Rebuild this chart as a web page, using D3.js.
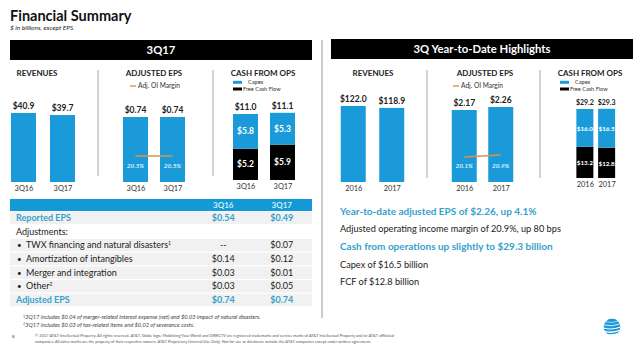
<!DOCTYPE html>
<html>
<head>
<meta charset="utf-8">
<script src="https://cdnjs.cloudflare.com/ajax/libs/d3/7.8.5/d3.min.js"></script>
<style>
  body { margin: 0; background: #fff; }
  svg { display: block; font-family: Lato, "Open Sans", sans-serif; }
</style>
</head>
<body>
<script>
// quarter figures
var qLabels  = ["3Q16", "3Q17"];
var qRevenue = [40.9, 39.7];
var qEps     = [0.74, 0.74];
var qMargin  = [20.5, 20.5];
var qCapex   = [5.8, 5.3];
var qFcf     = [5.2, 5.9];
var qCash    = [11.0, 11.1];

// year-to-date figures
var ytdLabels  = ["2016", "2017"];
var ytdRevenue = [122.0, 118.9];
var ytdEps     = [2.17, 2.26];
var ytdMargin  = [20.1, 20.9];
var ytdCapex   = [16.0, 16.5];
var ytdFcf     = [13.2, 12.8];
var ytdCash    = [29.2, 29.3];

// EPS reconciliation table
var tblCols   = ["3Q16", "3Q17"];
var tblRows   = ["Reported EPS", "Adjustments:", "TWX financing and natural disasters", "Amortization of intangibles", "Merger and integration", "Other", "Adjusted EPS"];
var tblSup    = ["", "", "1", "", "", "2", ""];
var tbl3Q16   = ["$0.54", "", "--", "$0.14", "$0.03", "$0.03", "$0.74"];
var tbl3Q17   = ["$0.49", "", "$0.07", "$0.12", "$0.01", "$0.05", "$0.74"];

// highlight bullets
var hlText = ["Year-to-date adjusted EPS of $2.26, up 4.1%",
              "Adjusted operating income margin of 20.9%, up 80 bps",
              "Cash from operations up slightly to $29.3 billion",
              "Capex of $16.5 billion",
              "FCF of $12.8 billion"];
var hlBold = [true, false, true, false, false];

var BLUE = "#1a9ad8", TXTBLUE = "#36a0cc", ORANGE = "#d9944c", GREY = "#a8a8a8";

var W = 640, H = 347;
var svg = d3.select("body").append("svg").attr("width", W).attr("height", H);

// ---- title ----
svg.append("text").attr("x", 10).attr("y", 21)
    .style("font-size", "14.5px").style("font-weight", "bold").style("fill", "#111")
    .text("Financial Summary");
svg.append("text").attr("x", 10).attr("y", 30)
    .style("font-size", "6.5px").style("font-style", "italic").style("fill", "#222")
    .text("$ in billions, except EPS");

// section headers
function header(x0, x1, y0, txt) {
    svg.append("rect").attr("x", x0).attr("y", y0).attr("width", x1 - x0).attr("height", 20).attr("fill", "#000");
    svg.append("text").attr("x", (x0 + x1) / 2).attr("y", y0 + 14)
        .attr("text-anchor", "middle").style("font-size", "11.3px").style("font-weight", "bold").style("fill", "#fff")
        .text(txt);
}
header(10, 312, 40, "3Q17");
header(331, 633, 39, "3Q Year-to-Date Highlights");

// middle separator
svg.append("line").attr("x1", 322).attr("x2", 322).attr("y1", 40).attr("y2", 318)
    .attr("stroke", GREY).attr("stroke-width", 1.2);

// panel dividers
[[98, 70, 176], [213, 70, 176], [427, 70, 178], [540, 70, 178]].forEach(function(d) {
    svg.append("line").attr("x1", d[0]).attr("x2", d[0]).attr("y1", d[1]).attr("y2", d[2])
        .attr("stroke", GREY).attr("stroke-width", 1);
});

// ---- mini bar charts ----
function panelTitle(cx, txt) {
    svg.append("text").attr("x", cx).attr("y", 76).attr("text-anchor", "middle")
        .style("font-size", "8px").style("font-weight", "bold").style("fill", "#222").text(txt);
}

function xAxis(x, bottom) {
    var g = svg.append("g").attr("transform", "translate(0," + (bottom + 4) + ")")
        .call(d3.axisBottom(x).tickSize(0).tickPadding(0));
    g.select(".domain").remove();
    g.selectAll("text").style("font-size", "7.4px").style("fill", "#333").style("font-family", "Lato, sans-serif");
}

function simpleBars(p) {
    var x = d3.scalePoint().domain(p.labels).range(p.xr).padding(0.5);
    var y = d3.scaleLinear().domain([0, p.max]).range([p.bottom, p.bottom - p.h]);
    panelTitle(p.tx, p.title);
    svg.selectAll(null).data(p.values).enter().append("rect")
        .attr("x", function(d, i) { return x(p.labels[i]) - p.bw / 2; })
        .attr("y", function(d) { return y(d); })
        .attr("width", p.bw)
        .attr("height", function(d) { return p.bottom - y(d); })
        .attr("fill", BLUE);
    svg.selectAll(null).data(p.values).enter().append("text")
        .attr("x", function(d, i) { return x(p.labels[i]); })
        .attr("y", function(d) { return y(d) - 4; })
        .attr("text-anchor", "middle")
        .style("font-size", "8.5px").style("font-weight", "bold").style("fill", "#222")
        .text(function(d) { return p.fmt(d); });
    xAxis(x, p.bottom);
    return x;
}

function marginLine(x, labels, margins, legendX) {
    var my = d3.scaleLinear().domain([18, 23]).range([162.25, 149.75]);
    var line = d3.line().x(function(d, i) { return x(labels[i]); }).y(function(d) { return my(d); });
    svg.append("path").attr("d", line(margins)).attr("fill", "none")
        .attr("stroke", ORANGE).attr("stroke-width", 1.6);
    svg.selectAll(null).data(margins).enter().append("text")
        .attr("x", function(d, i) { return x(labels[i]); })
        .attr("y", 168)
        .attr("text-anchor", "middle")
        .style("font-size", "6.3px").style("font-weight", "bold").style("font-style", "italic").style("fill", "#d6f1ff")
        .text(function(d) { return d.toFixed(1) + "%"; });
    // legend
    svg.append("line").attr("x1", legendX).attr("x2", legendX + 6).attr("y1", 86).attr("y2", 86)
        .attr("stroke", ORANGE).attr("stroke-width", 1.4);
    svg.append("text").attr("x", legendX + 8).attr("y", 88.3)
        .style("font-size", "6.6px").style("fill", "#333").text("Adj. OI Margin");
}

function stackBars(p) {
    var x = d3.scalePoint().domain(p.labels).range(p.xr).padding(0.5);
    var y = d3.scaleLinear().domain([0, p.max]).range([p.bottom, p.bottom - p.h]);
    panelTitle(p.tx, p.title);
    var data = p.labels.map(function(l, i) { return { label: l, fcf: p.fcf[i], capex: p.capex[i], total: p.total[i] }; });
    var stack = d3.stack().keys(["fcf", "capex"])(data);
    var colors = { fcf: "#000", capex: BLUE };
    stack.forEach(function(layer) {
        svg.selectAll(null).data(layer).enter().append("rect")
            .attr("x", function(d) { return x(d.data.label) - p.bw / 2; })
            .attr("y", function(d) { return y(d[1]); })
            .attr("width", p.bw)
            .attr("height", function(d) { return y(d[0]) - y(d[1]); })
            .attr("fill", colors[layer.key]);
        svg.selectAll(null).data(layer).enter().append("text")
            .attr("x", function(d) { return x(d.data.label); })
            .attr("y", function(d) { return (y(d[0]) + y(d[1])) / 2 + 3; })
            .attr("text-anchor", "middle")
            .style("font-size", p.fsIn + "px").style("font-weight", "bold").style("fill", "#fff")
            .text(function(d) { return "$" + d.data[layer.key].toFixed(1); });
    });
    svg.selectAll(null).data(data).enter().append("text")
        .attr("x", function(d) { return x(d.label); })
        .attr("y", function(d) { return y(d.fcf + d.capex) - 4; })
        .attr("text-anchor", "middle")
        .style("font-size", p.fs + "px").style("font-weight", "bold").style("fill", "#222")
        .text(function(d) { return "$" + d.total.toFixed(1); });
    // legend
    var lg = [["Capex", BLUE, 15], ["Free Cash Flow", "#000", 10]];
    lg.forEach(function(d, i) {
        svg.append("rect").attr("x", p.lx).attr("y", 80.8 + i * 6.7).attr("width", 9).attr("height", 3).attr("fill", d[1]);
        svg.append("text").attr("x", p.lx + d[2]).attr("y", 83.8 + i * 6.7)
            .style("font-size", "5.6px").style("fill", "#333").text(d[0]);
    });
    xAxis(x, p.bottom);
}

// 3Q17 side
simpleBars({ labels: qLabels, values: qRevenue, xr: [4, 82], bw: 25, bottom: 182, max: 40.9, h: 69,
             title: "REVENUES", tx: 37, fmt: function(d) { return "$" + d.toFixed(1); } });
var xq = simpleBars({ labels: qLabels, values: qEps, xr: [117, 191], bw: 25, bottom: 182, max: 0.74, h: 65,
             title: "ADJUSTED EPS", tx: 154, fmt: function(d) { return "$" + d.toFixed(2); } });
marginLine(xq, qLabels, qMargin, 130);
stackBars({ labels: qLabels, fcf: qFcf, capex: qCapex, total: qCash, xr: [227, 301], bw: 25, bottom: 180, max: 11.0, h: 66,
            title: "CASH FROM OPS", tx: 263, lx: 233, fs: 8.5, fsIn: 8.5 });

// year-to-date side
simpleBars({ labels: ytdLabels, values: ytdRevenue, xr: [334, 411], bw: 25, bottom: 182, max: 122.0, h: 76,
             title: "REVENUES", tx: 373, fmt: function(d) { return "$" + d.toFixed(1); } });
var xy = simpleBars({ labels: ytdLabels, values: ytdEps, xr: [446, 519], bw: 25, bottom: 182, max: 2.17, h: 72,
             title: "ADJUSTED EPS", tx: 485, fmt: function(d) { return "$" + d.toFixed(2); } });
marginLine(xy, ytdLabels, ytdMargin, 453);
stackBars({ labels: ytdLabels, fcf: ytdFcf, capex: ytdCapex, total: ytdCash, xr: [574, 617.5], bw: 17, bottom: 178, max: 29.2, h: 69,
            title: "CASH FROM OPS", tx: 590, lx: 560, fs: 7, fsIn: 6.4 });

// ---- EPS table ----
var tX0 = 10, tX1 = 312, rowH = 13.7, rowTop = 211;
var colX = d3.scalePoint().domain(tblCols).range([194, 311]).padding(0.5);
svg.append("rect").attr("x", tX0).attr("y", 199).attr("width", tX1 - tX0).attr("height", 12).attr("fill", "#1499d6");
tblCols.forEach(function(c) {
    svg.append("text").attr("x", colX(c)).attr("y", 208).attr("text-anchor", "middle")
        .style("font-size", "8px").style("font-weight", "bold").style("fill", "#cdeefc").text(c);
});
tblRows.forEach(function(r, i) {
    var y0 = rowTop + i * rowH;
    var blue = (i === 0 || i === tblRows.length - 1);
    if (i !== 1) {
        svg.append("rect").attr("x", tX0).attr("y", y0 + 0.6).attr("width", tX1 - tX0).attr("height", rowH - 1.2)
            .attr("fill", "#f1f1f1");
    }
    var bullet = (i >= 2 && i <= 5);
    if (bullet) {
        svg.append("text").attr("x", 17).attr("y", y0 + 9.8).style("font-size", "8px").style("fill", "#222").text("\u2022");
    }
    var t = svg.append("text").attr("x", bullet ? 26 : 16).attr("y", y0 + 9.8)
        .style("font-size", "9px").style("font-weight", blue ? "bold" : "normal")
        .style("fill", blue ? TXTBLUE : "#222").text(r);
    if (tblSup[i]) {
        t.append("tspan").attr("dy", -3.2).style("font-size", "5px").text(tblSup[i]);
    }
    [tbl3Q16[i], tbl3Q17[i]].forEach(function(v, j) {
        svg.append("text").attr("x", colX(tblCols[j])).attr("y", y0 + 9.8).attr("text-anchor", "middle")
            .style("font-size", "9px").style("font-weight", blue ? "bold" : "normal")
            .style("fill", blue ? TXTBLUE : "#222").text(v);
    });
});

// ---- highlights text ----
var hlY = [215, 232, 250, 268, 285];
hlText.forEach(function(t, i) {
    svg.append("text").attr("x", 340).attr("y", hlY[i])
        .style("font-size", hlBold[i] ? "10px" : "9.2px")
        .style("font-weight", hlBold[i] ? "bold" : "normal")
        .style("fill", hlBold[i] ? TXTBLUE : "#222").text(t);
});

// ---- footnotes ----
var notes = ["3Q17 includes $0.04 of merger-related interest expense (net) and $0.03 impact of natural disasters.",
             "3Q17 includes $0.03 of tax-related items and $0.02 of severance costs."];
notes.forEach(function(n, i) {
    var t = svg.append("text").attr("x", 23).attr("y", 319 + i * 7.5)
        .style("font-size", "5.7px").style("font-style", "italic").style("fill", "#444");
    t.append("tspan").attr("dy", -1.5).style("font-size", "3.8px").text(i + 1);
    t.append("tspan").attr("dy", 1.5).text(n);
});
svg.append("text").attr("x", 12).attr("y", 338).style("font-size", "4.5px").style("fill", "#444").text("8");
var legal = ["\u00A9 2017 AT&T Intellectual Property. All rights reserved. AT&T, Globe logo, Mobilizing Your World and DIRECTV are registered trademarks and service marks of AT&T Intellectual Property and/or AT&T affiliated",
             "companies. All other marks are the property of their respective owners. AT&T Proprietary (Internal Use Only). Not for use or disclosure outside the AT&T companies except under written agreement."];
var legalLen = [359, 336];
legal.forEach(function(l, i) {
    svg.append("text").attr("x", 35).attr("y", 337 + i * 5.5)
        .attr("textLength", legalLen[i]).attr("lengthAdjust", "spacingAndGlyphs")
        .style("font-size", "4px").style("fill", "#555").text(l);
});

// globe mark
var gx = 612, gy = 327, gr = 8.5;
svg.append("clipPath").attr("id", "globe").append("circle").attr("cx", gx).attr("cy", gy).attr("r", gr);
var globe = svg.append("g").attr("clip-path", "url(#globe)");
globe.append("circle").attr("cx", gx).attr("cy", gy).attr("r", gr).attr("fill", "#1a9ad8");
[-5.5, -2.2, 1, 4.2, 7].forEach(function(o, i) {
    globe.append("path")
        .attr("d", "M" + (gx - gr) + "," + (gy + o) + " Q" + gx + "," + (gy + o + 2.5) + " " + (gx + gr) + "," + (gy + o - 1))
        .attr("stroke", "#fff").attr("stroke-width", 0.6 + i * 0.25).attr("fill", "none");
});
</script>
</body>
</html>
